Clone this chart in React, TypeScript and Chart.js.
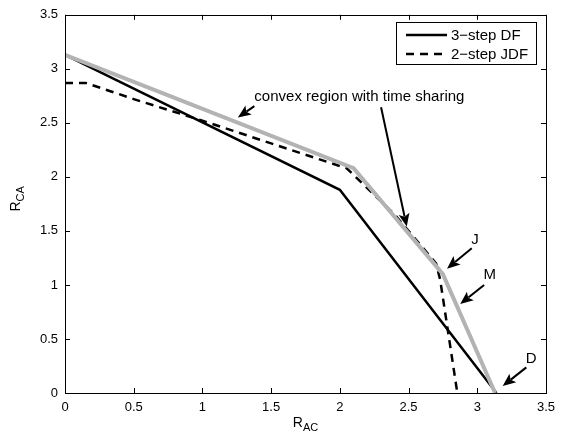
import React, { useEffect, useRef } from "react";
import { Chart, registerables } from "chart.js";

Chart.register(...registerables);

const dfX = [0, 2, 3.14];
const dfY = [3.13, 1.88, 0];
const jdfX = [0, 0.15, 0.5, 1, 1.5, 2.05, 2.4, 2.7, 2.73, 2.855];
const jdfY = [2.87, 2.87, 2.72, 2.52, 2.31, 2.08, 1.65, 1.2, 1.05, 0];
const convX = [0, 2.1, 2.75, 3.13];
const convY = [3.13, 2.08, 1.1, 0];
const seriesNames = ["3\u2212step DF", "2\u2212step JDF"];
const tickValues = [0, 0.5, 1, 1.5, 2, 2.5, 3, 3.5];

const noteTexts = ["convex region with time sharing", "J", "M", "D"];
const noteTextX = [1.378, 2.983, 3.091, 3.393];
const noteTextY = [2.744, 1.413, 1.094, 0.319];
const arrowFromX = [1.378, 2.3, 2.96, 3.05, 3.357];
const arrowFromY = [2.655, 2.644, 1.34, 1.0, 0.237];
const arrowToX = [1.258, 2.487, 2.78, 2.876, 3.185];
const arrowToY = [2.55, 1.54, 1.151, 0.823, 0.064];

const FONT = "Liberation Sans, Arial, Helvetica, sans-serif";

function drawArrow(ctx: CanvasRenderingContext2D, x1: number, y1: number, x2: number, y2: number) {
  const ang = Math.atan2(y2 - y1, x2 - x1);
  const headLen = 13;
  const headW = 5.5;
  const c = Math.cos(ang);
  const s = Math.sin(ang);
  ctx.save();
  ctx.strokeStyle = "#000";
  ctx.fillStyle = "#000";
  ctx.lineWidth = 2;
  ctx.beginPath();
  ctx.moveTo(x1, y1);
  ctx.lineTo(x2 - c * headLen * 0.8, y2 - s * headLen * 0.8);
  ctx.stroke();
  ctx.beginPath();
  ctx.moveTo(x2, y2);
  ctx.lineTo(x2 - c * headLen - s * headW, y2 - s * headLen + c * headW);
  ctx.lineTo(x2 - c * headLen * 0.78, y2 - s * headLen * 0.78);
  ctx.lineTo(x2 - c * headLen + s * headW, y2 - s * headLen - c * headW);
  ctx.closePath();
  ctx.fill();
  ctx.restore();
}

const overlayPlugin = {
  id: "overlay",
  afterDatasetsDraw(chart: any) {
    const ctx: CanvasRenderingContext2D = chart.ctx;
    const xs = chart.scales.x;
    const ys = chart.scales.y;
    const { left, right, top, bottom } = chart.chartArea;
    ctx.save();
    ctx.strokeStyle = "#000";
    ctx.lineWidth = 1;
    ctx.strokeRect(Math.round(left) + 0.5, Math.round(top) + 0.5, Math.round(right - left), Math.round(bottom - top));
    const tl = 5;
    ctx.beginPath();
    tickValues.forEach((v) => {
      const px = Math.round(xs.getPixelForValue(v)) + 0.5;
      ctx.moveTo(px, bottom);
      ctx.lineTo(px, bottom - tl);
      ctx.moveTo(px, top);
      ctx.lineTo(px, top + tl);
      const py = Math.round(ys.getPixelForValue(v)) + 0.5;
      ctx.moveTo(left, py);
      ctx.lineTo(left + tl, py);
      ctx.moveTo(right, py);
      ctx.lineTo(right - tl, py);
    });
    ctx.stroke();

    ctx.fillStyle = "#000";
    ctx.font = `15px ${FONT}`;
    ctx.textBaseline = "middle";
    noteTexts.forEach((t, i) => {
      const px = xs.getPixelForValue(noteTextX[i]);
      const py = ys.getPixelForValue(noteTextY[i]);
      ctx.textAlign = i === 0 ? "left" : "center";
      ctx.fillText(t, px, py);
    });
    arrowFromX.forEach((_, i) => {
      drawArrow(
        ctx,
        xs.getPixelForValue(arrowFromX[i]),
        ys.getPixelForValue(arrowFromY[i]),
        xs.getPixelForValue(arrowToX[i]),
        ys.getPixelForValue(arrowToY[i])
      );
    });

    const lx = Math.round(right) - 150;
    const ly = Math.round(top) + 7;
    const lw = 140;
    const lh = 42;
    ctx.fillStyle = "#fff";
    ctx.fillRect(lx, ly, lw, lh);
    ctx.strokeStyle = "#000";
    ctx.lineWidth = 1;
    ctx.strokeRect(lx + 0.5, ly + 0.5, lw, lh);
    ctx.font = `15px ${FONT}`;
    ctx.textAlign = "left";
    ctx.textBaseline = "middle";
    const rows = [ly + 13, ly + 32];
    rows.forEach((ry, i) => {
      ctx.beginPath();
      ctx.lineWidth = 2.5;
      ctx.strokeStyle = "#000";
      ctx.setLineDash(i === 1 ? [8, 6] : []);
      ctx.moveTo(lx + 10, ry);
      ctx.lineTo(lx + 51, ry);
      ctx.stroke();
      ctx.setLineDash([]);
      ctx.fillStyle = "#000";
      ctx.fillText(seriesNames[i], lx + 55, ry + 1);
    });

    const drawSub = (main: string, sub: string, x: number, y: number) => {
      ctx.font = `14px ${FONT}`;
      const w1 = ctx.measureText(main).width;
      ctx.font = `11px ${FONT}`;
      const w2 = ctx.measureText(sub).width;
      const start = x - (w1 + w2) / 2;
      ctx.textAlign = "left";
      ctx.textBaseline = "alphabetic";
      ctx.font = `14px ${FONT}`;
      ctx.fillText(main, start, y);
      ctx.font = `11px ${FONT}`;
      ctx.fillText(sub, start + w1, y + 4);
    };
    ctx.fillStyle = "#000";
    drawSub("R", "AC", (left + right) / 2, bottom + 34);
    ctx.save();
    ctx.translate(left - 45, (top + bottom) / 2 - 5);
    ctx.rotate(-Math.PI / 2);
    drawSub("R", "CA", 0, 0);
    ctx.restore();

    ctx.restore();
  },
};

export default function App() {
  const ref = useRef<HTMLCanvasElement | null>(null);
  useEffect(() => {
    document.body.style.margin = "0";
    const toPts = (xs: number[], ys: number[]) => xs.map((x, i) => ({ x, y: ys[i] }));
    const tickCfg = {
      padding: 7,
      color: "#000",
      font: { family: FONT, size: 13 },
      maxRotation: 0,
      autoSkip: false,
      callback: (v: any) => String(v),
    };
    const chart = new Chart(ref.current!, {
      type: "line",
      data: {
        datasets: [
          {
            label: seriesNames[0],
            data: toPts(dfX, dfY),
            borderColor: "#000",
            borderWidth: 2.5,
            pointRadius: 0,
            tension: 0,
            order: 2,
          },
          {
            label: seriesNames[1],
            data: toPts(jdfX, jdfY),
            borderColor: "#000",
            borderWidth: 2.5,
            borderDash: [8, 6],
            pointRadius: 0,
            tension: 0,
            order: 1,
          },
          {
            label: "convex",
            data: toPts(convX, convY),
            borderColor: "#b3b3b3",
            borderWidth: 4,
            pointRadius: 0,
            tension: 0,
            order: 0,
          },
        ],
      },
      options: {
        animation: false,
        responsive: false,
        maintainAspectRatio: false,
        layout: { padding: { top: 9, right: 10, left: 0, bottom: 0 } },
        plugins: { legend: { display: false }, tooltip: { enabled: false } },
        scales: {
          x: {
            type: "linear",
            min: 0,
            max: 3.5,
            afterBuildTicks: (s: any) => {
              s.ticks = tickValues.map((v) => ({ value: v }));
            },
            afterFit: (s: any) => {
              s.height = 48;
            },
            grid: { display: false, drawTicks: false },
            border: { display: false },
            ticks: tickCfg,
          },
          y: {
            type: "linear",
            min: 0,
            max: 3.5,
            afterBuildTicks: (s: any) => {
              s.ticks = tickValues.map((v) => ({ value: v }));
            },
            afterFit: (s: any) => {
              s.width = 65;
            },
            grid: { display: false, drawTicks: false },
            border: { display: false },
            ticks: tickCfg,
          },
        },
      },
      plugins: [overlayPlugin],
    });
    return () => chart.destroy();
  }, []);
  return (
    <div style={{ width: 562, height: 441 }}>
      <canvas ref={ref} width={562} height={441} style={{ display: "block" }} />
    </div>
  );
}
